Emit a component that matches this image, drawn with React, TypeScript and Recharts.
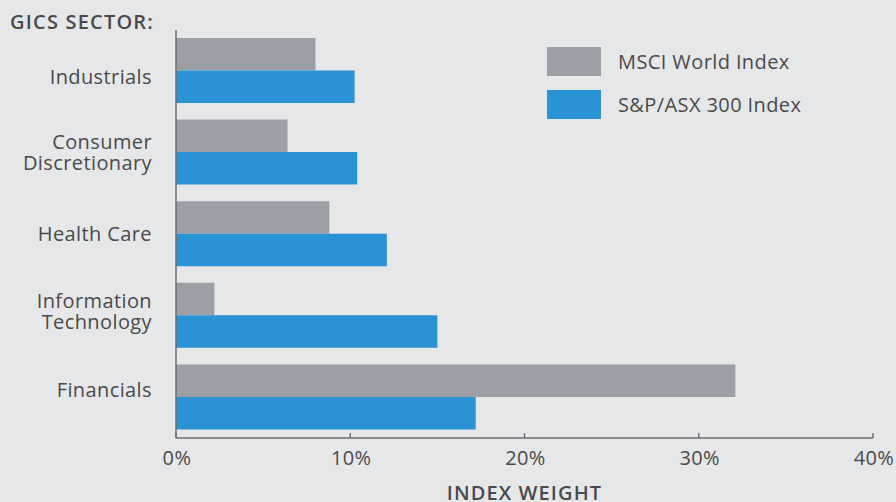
import React from "react";
import { BarChart, Bar, XAxis, YAxis, Legend } from "recharts";

const sectors = ["Industrials", "Consumer\nDiscretionary", "Health Care", "Information\nTechnology", "Financials"];
const msciWorld = [8.0, 6.4, 8.8, 2.2, 32.1];
const spAsx300 = [10.25, 10.4, 12.1, 15.0, 17.2];
const xTicks = [0, 10, 20, 30, 40];

const BG = "#e6e7e8";
const GREY = "#9d9fa6";
const BLUE = "#2a93d5";
const TEXT = "#4a4a4c";
const AXIS = "#6d6e71";
const FONT = "'Open Sans', sans-serif";
const FS = 20;
const LS = 0.4;
const LABEL_NUDGE = [6.5, 0, 0, -4.5, -7.5];

const data = sectors.map((s, i) => ({ sector: s, msci: msciWorld[i], asx: spAsx300[i] }));

const YTick = (props: any) => {
  const { x, y, payload, index } = props;
  const lines = String(payload.value).split("\n");
  const lh = 21;
  const start = -((lines.length - 1) * lh) / 2;
  const shift = LABEL_NUDGE[index ?? 0] ?? 0;
  return (
    <text x={x} y={y + shift} textAnchor="end" fill={TEXT} fontSize={FS} fontFamily={FONT} letterSpacing={LS}>
      {lines.map((l: string, i: number) => (
        <tspan key={i} x={x} dy={i === 0 ? start + 7 : lh}>
          {l}
        </tspan>
      ))}
    </text>
  );
};

const XTick = (props: any) => {
  const { x, y, payload } = props;
  const axisY = y - 14;
  return (
    <g>
      <line x1={x} x2={x} y1={axisY - 5} y2={axisY} stroke={AXIS} strokeWidth={1.5} />
      <text x={x + 1} y={axisY + 27} textAnchor="middle" fill={TEXT} fontSize={FS} fontFamily={FONT} letterSpacing={LS}>
        {payload.value}%
      </text>
    </g>
  );
};

const LegendContent = (props: any) => {
  const { payload } = props;
  return (
    <div style={{ width: 0, whiteSpace: "nowrap" }}>
      {payload.map((p: any, i: number) => (
        <div key={i} style={{ display: "flex", alignItems: "center", height: 29, marginBottom: 14.5 }}>
          <div style={{ width: 54, height: 29, background: p.color, flex: "none" }} />
          <span style={{ marginLeft: 17, fontSize: FS, color: TEXT, fontFamily: FONT, letterSpacing: LS }}>{p.value}</span>
        </div>
      ))}
    </div>
  );
};

export default function App() {
  return (
    <div style={{ position: "absolute", left: 0, top: 0, width: 896, height: 502, background: BG, overflow: "hidden" }}>
      <div
        style={{
          position: "absolute",
          left: 10,
          top: 10,
          fontFamily: FONT,
          fontWeight: 600,
          fontSize: FS,
          letterSpacing: 1.2,
          color: TEXT,
          lineHeight: "24px",
        }}
      >
        GICS SECTOR:
      </div>
      <BarChart
        width={896}
        height={502}
        data={data}
        layout="vertical"
        margin={{ top: 30, right: 23, bottom: 0, left: 0 }}
        barGap={0}
        barSize={32.5}
      >
        <XAxis
          type="number"
          domain={[0, 40]}
          ticks={xTicks}
          height={64}
          axisLine={{ stroke: AXIS, strokeWidth: 1.5 }}
          tickLine={false}
          tickSize={0}
          tickMargin={14}
          tick={<XTick />}
          label={{
            value: "INDEX WEIGHT",
            position: "insideBottom",
            offset: 2,
            fill: TEXT,
            fontSize: FS,
            fontWeight: 600,
            fontFamily: FONT,
            letterSpacing: 1.1,
          }}
        />
        <YAxis
          type="category"
          dataKey="sector"
          width={176}
          axisLine={{ stroke: AXIS, strokeWidth: 1.5 }}
          tickLine={false}
          tickSize={0}
          tickMargin={24}
          tick={<YTick />}
          interval={0}
        />
        <Legend
          layout="vertical"
          verticalAlign="top"
          align="left"
          wrapperStyle={{ position: "absolute", top: 46.5, left: 547, width: 0, height: 0, overflow: "visible" }}
          content={<LegendContent />}
        />
        <Bar dataKey="msci" name="MSCI World Index" fill={GREY} isAnimationActive={false} />
        <Bar dataKey="asx" name="S&P/ASX 300 Index" fill={BLUE} isAnimationActive={false} />
      </BarChart>
    </div>
  );
}
